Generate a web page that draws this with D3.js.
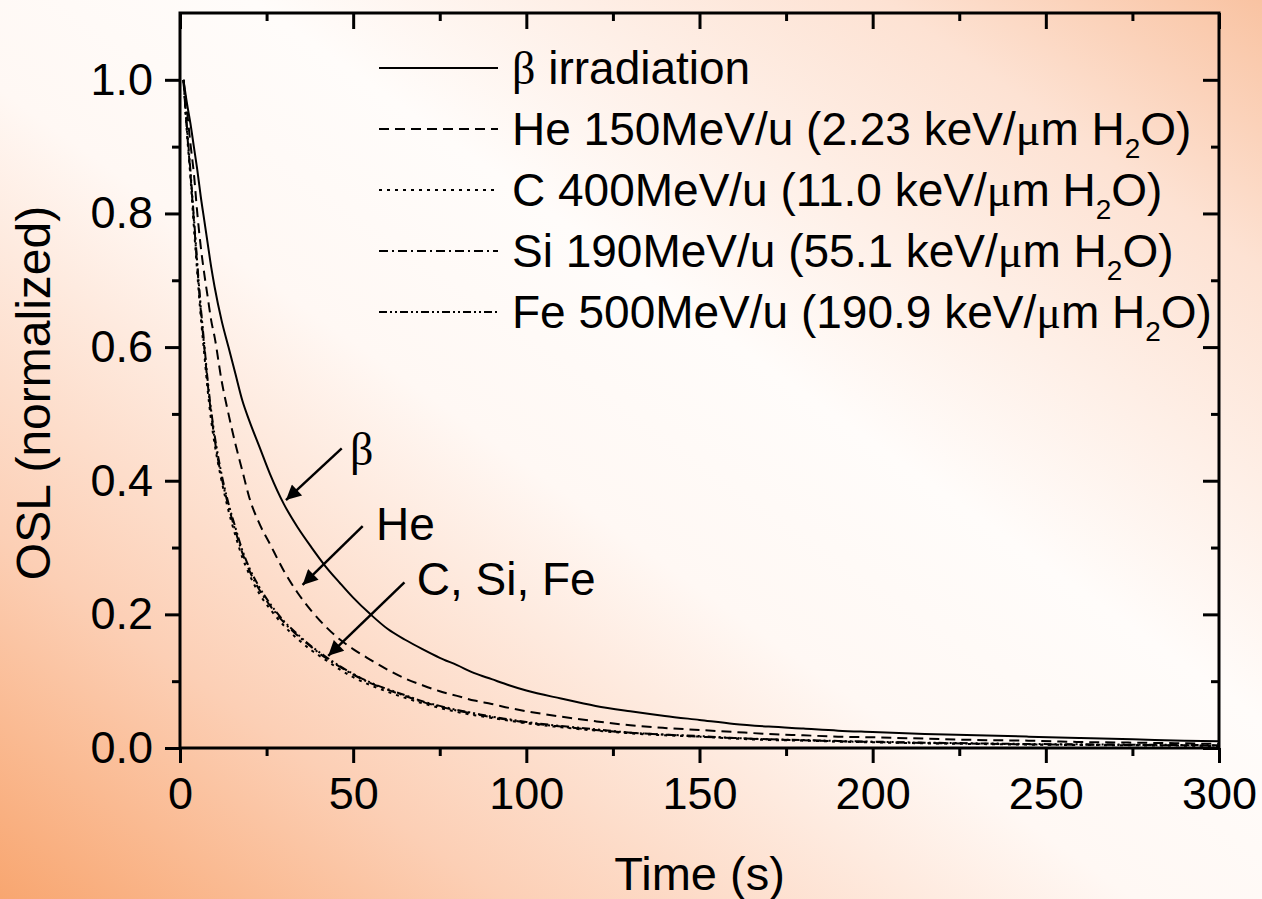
<!DOCTYPE html>
<html lang="en">
<head>
    <meta charset="UTF-8">
    <title>OSL decay curves</title>
    <script src="https://d3js.org/d3.v7.min.js"></script>
    <style>
        body {
            margin: 0;
            padding: 0;
            background: #fff;
        }
        svg text {
            font-family: 'Liberation Sans', Arial, sans-serif;
            fill: #000;
        }
        .greek {
            font-family: 'Liberation Serif', 'Times New Roman', serif;
        }
    </style>
</head>
<body>
<svg id="chart"></svg>
<script>
    // Data (time in s, OSL normalized)
    const times = [1, 2, 3, 4, 5, 6, 7, 8, 9, 10, 12, 14, 16, 18, 20, 23, 26, 30, 34, 38, 42, 46, 50, 55, 60, 65, 70, 75, 80, 85, 90, 95, 100, 110, 120, 130, 140, 150, 160, 170, 180, 190, 200, 215, 230, 245, 260, 275, 290, 300];

    const betaValues = [1.0, 0.965, 0.935, 0.90, 0.865, 0.825, 0.79, 0.755, 0.72, 0.69, 0.64, 0.60, 0.56, 0.52, 0.49, 0.45, 0.41, 0.365, 0.33, 0.30, 0.272, 0.248, 0.225, 0.2, 0.178, 0.162, 0.148, 0.135, 0.124, 0.112, 0.103, 0.094, 0.086, 0.074, 0.063, 0.055, 0.048, 0.042, 0.036, 0.032, 0.029, 0.026, 0.024, 0.021, 0.019, 0.017, 0.015, 0.013, 0.011, 0.010];

    const heValues = [1.0, 0.955, 0.905, 0.86, 0.80, 0.75, 0.71, 0.675, 0.64, 0.615, 0.55, 0.50, 0.455, 0.415, 0.375, 0.335, 0.305, 0.265, 0.232, 0.205, 0.182, 0.163, 0.148, 0.132, 0.117, 0.104, 0.094, 0.085, 0.078, 0.071, 0.066, 0.060, 0.055, 0.047, 0.040, 0.034, 0.030, 0.027, 0.024, 0.021, 0.019, 0.017, 0.016, 0.014, 0.012, 0.011, 0.009, 0.008, 0.007, 0.006];

    const cValues = [1.0, 0.92, 0.855, 0.78, 0.71, 0.645, 0.59, 0.535, 0.49, 0.455, 0.40, 0.355, 0.318, 0.285, 0.26, 0.23, 0.208, 0.183, 0.163, 0.146, 0.132, 0.118, 0.106, 0.094, 0.084, 0.075, 0.067, 0.060, 0.054, 0.049, 0.045, 0.041, 0.037, 0.031, 0.026, 0.022, 0.019, 0.017, 0.014, 0.012, 0.011, 0.0095, 0.0085, 0.007, 0.006, 0.005, 0.0045, 0.004, 0.0035, 0.003];

    const siValues = [1.0, 0.925, 0.86, 0.79, 0.72, 0.655, 0.60, 0.545, 0.50, 0.462, 0.405, 0.362, 0.325, 0.292, 0.266, 0.236, 0.213, 0.188, 0.168, 0.151, 0.135, 0.122, 0.110, 0.097, 0.087, 0.078, 0.069, 0.062, 0.056, 0.051, 0.046, 0.042, 0.038, 0.032, 0.027, 0.023, 0.020, 0.017, 0.015, 0.013, 0.0115, 0.010, 0.009, 0.0075, 0.0065, 0.0055, 0.005, 0.0045, 0.004, 0.0035];

    const feValues = [1.0, 0.93, 0.865, 0.795, 0.725, 0.66, 0.605, 0.55, 0.505, 0.468, 0.41, 0.366, 0.33, 0.296, 0.27, 0.24, 0.216, 0.19, 0.17, 0.152, 0.137, 0.123, 0.111, 0.098, 0.088, 0.079, 0.070, 0.063, 0.057, 0.052, 0.047, 0.043, 0.039, 0.033, 0.028, 0.023, 0.020, 0.018, 0.015, 0.013, 0.012, 0.0105, 0.0095, 0.008, 0.007, 0.006, 0.0055, 0.005, 0.0045, 0.004];

    const xTicks = [0, 50, 100, 150, 200, 250, 300];
    const yTicks = [0.0, 0.2, 0.4, 0.6, 0.8, 1.0];

    // Series: legend label parts, values, dash pattern
    const seriesNames = ["beta", "He", "C", "Si", "Fe"];
    const seriesLabels = [
        ["", "irradiation"],
        ["He 150MeV/u (2.23 keV/", "m H"],
        ["C 400MeV/u (11.0 keV/", "m H"],
        ["Si 190MeV/u (55.1 keV/", "m H"],
        ["Fe 500MeV/u (190.9 keV/", "m H"]
    ];
    const seriesValues = [betaValues, heValues, cValues, siValues, feValues];
    const dashes = ["none", "10,6", "3,5", "9,4,2,4", "8,3,2,3,2,3"];

    // Annotations: [label, label t, label v, arrow from t, v, arrow to t, v]
    const annotations = [
        ["β", 49.1, 0.424, 46.7, 0.4485, 30.6, 0.371],
        ["He", 56.6, 0.311, 52.75, 0.332, 35.4, 0.244],
        ["C, Si, Fe", 68.35, 0.229, 64.8, 0.248, 42.8, 0.138]
    ];

    const W = 1262, H = 899;
    const mLeft = 180, mRight = 1219, mTop = 13, mBottom = 748;

    const svg = d3.select("#chart")
        .attr("width", W)
        .attr("height", H);

    // Background gradient
    const defs = svg.append("defs");
    const grad = defs.append("linearGradient")
        .attr("id", "bg")
        .attr("x1", 0).attr("y1", 1)
        .attr("x2", 1).attr("y2", 0);
    [[0, "#f8a670"], [0.2, "#fccfb5"], [0.45, "#fff8f4"], [0.6, "#fffcfa"], [0.85, "#fde2d3"], [1, "#f9c3a2"]]
        .forEach(s => grad.append("stop").attr("offset", s[0]).attr("stop-color", s[1]));

    svg.append("rect")
        .attr("width", W).attr("height", H)
        .attr("fill", "url(#bg)");

    defs.append("clipPath").attr("id", "clip")
        .append("rect")
        .attr("x", mLeft).attr("y", mTop)
        .attr("width", mRight - mLeft).attr("height", mBottom - mTop);

    defs.append("marker")
        .attr("id", "arrow")
        .attr("viewBox", "0 0 10 10")
        .attr("refX", 10).attr("refY", 5)
        .attr("markerWidth", 8).attr("markerHeight", 6)
        .attr("markerUnits", "strokeWidth")
        .attr("orient", "auto")
        .append("path")
        .attr("d", "M0,0 L10,5 L0,10 z")
        .attr("fill", "#000");

    // Scales
    const x = d3.scaleLinear().domain([0, 300]).range([mLeft, mRight]);
    const y = d3.scaleLinear().domain([0, 1.1]).range([mBottom, mTop]);

    // Curves
    const line = d3.line()
        .x(d => x(d[0]))
        .y(d => y(d[1]))
        .curve(d3.curveMonotoneX);

    const curves = svg.append("g").attr("clip-path", "url(#clip)");
    seriesValues.forEach((vals, i) => {
        curves.append("path")
            .datum(times.map((t, j) => [t, vals[j]]))
            .attr("fill", "none")
            .attr("stroke", "#000")
            .attr("stroke-width", 2)
            .attr("stroke-dasharray", dashes[i])
            .attr("d", line);
    });

    // Axes
    function styleAxis(g) {
        g.selectAll(".domain").remove();
        g.selectAll(".tick line").attr("stroke", "#000").attr("stroke-width", 3);
        g.selectAll(".tick text").attr("font-size", 45).attr("fill", "#000")
            .attr("font-family", "'Liberation Sans', Arial, sans-serif");
    }

    const xMinor = d3.range(0, 301, 25).filter(v => v % 50 !== 0);
    const yMinor = d3.range(1, 11, 2).map(v => v / 10);

    // bottom
    svg.append("g").attr("transform", `translate(0,${mBottom})`)
        .call(d3.axisBottom(x).tickValues(xTicks).tickSize(15).tickPadding(14).tickFormat(d3.format("d")))
        .call(styleAxis);
    svg.append("g").attr("transform", `translate(0,${mBottom})`)
        .call(d3.axisBottom(x).tickValues(xMinor).tickSize(8).tickFormat(""))
        .call(styleAxis);
    // top (inward)
    svg.append("g").attr("transform", `translate(0,${mTop})`)
        .call(d3.axisBottom(x).tickValues(xTicks).tickSize(16).tickFormat(""))
        .call(styleAxis);
    svg.append("g").attr("transform", `translate(0,${mTop})`)
        .call(d3.axisBottom(x).tickValues(xMinor).tickSize(8).tickFormat(""))
        .call(styleAxis);
    // left
    svg.append("g").attr("transform", `translate(${mLeft},0)`)
        .call(d3.axisLeft(y).tickValues(yTicks).tickSize(15).tickPadding(12).tickFormat(d3.format(".1f")))
        .call(styleAxis);
    svg.append("g").attr("transform", `translate(${mLeft},0)`)
        .call(d3.axisLeft(y).tickValues(yMinor).tickSize(8).tickFormat(""))
        .call(styleAxis);
    // right (inward)
    svg.append("g").attr("transform", `translate(${mRight},0)`)
        .call(d3.axisLeft(y).tickValues(yTicks).tickSize(16).tickFormat(""))
        .call(styleAxis);
    svg.append("g").attr("transform", `translate(${mRight},0)`)
        .call(d3.axisLeft(y).tickValues(yMinor).tickSize(8).tickFormat(""))
        .call(styleAxis);

    // Frame
    svg.append("rect")
        .attr("x", mLeft).attr("y", mTop)
        .attr("width", mRight - mLeft).attr("height", mBottom - mTop)
        .attr("fill", "none")
        .attr("stroke", "#000")
        .attr("stroke-width", 3);

    // Axis titles
    svg.append("text")
        .attr("x", (mLeft + mRight) / 2)
        .attr("y", 890)
        .attr("text-anchor", "middle")
        .attr("font-size", 47)
        .text("Time (s)");

    svg.append("text")
        .attr("transform", "translate(50,393) rotate(-90)")
        .attr("text-anchor", "middle")
        .attr("font-size", 48)
        .text("OSL (normalized)");

    // Legend
    const legend = svg.append("g");
    seriesNames.forEach((name, i) => {
        const base = 84 + i * 61;
        legend.append("line")
            .attr("x1", 379).attr("x2", 498)
            .attr("y1", base - 16).attr("y2", base - 16)
            .attr("stroke", "#000")
            .attr("stroke-width", 2)
            .attr("stroke-dasharray", dashes[i]);

        const t = legend.append("text")
            .attr("x", 512).attr("y", base)
            .attr("font-size", 46);
        const parts = seriesLabels[i];
        if (i === 0) {
            t.append("tspan").attr("class", "greek").text("β");
            t.append("tspan").text(" " + parts[1]);
        } else {
            t.append("tspan").text(parts[0]);
            t.append("tspan").attr("class", "greek").text("μ");
            t.append("tspan").text(parts[1]);
            t.append("tspan").attr("font-size", 28).attr("dy", 13).text("2");
            t.append("tspan").attr("dy", -13).text("O)");
        }
    });

    // Annotations
    annotations.forEach(a => {
        svg.append("text")
            .attr("x", x(a[1])).attr("y", y(a[2]))
            .attr("font-size", 46)
            .attr("class", a[0] === "β" ? "greek" : null)
            .text(a[0]);
        svg.append("line")
            .attr("x1", x(a[3])).attr("y1", y(a[4]))
            .attr("x2", x(a[5])).attr("y2", y(a[6]))
            .attr("stroke", "#000")
            .attr("stroke-width", 2.5)
            .attr("marker-end", "url(#arrow)");
    });
</script>
</body>
</html>
